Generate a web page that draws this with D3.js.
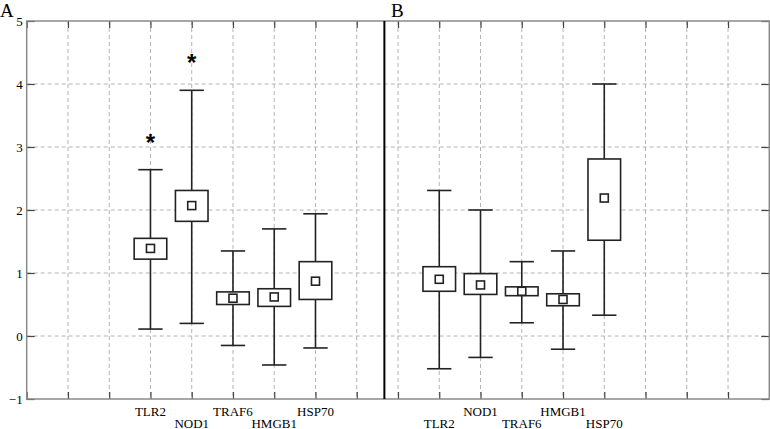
<!DOCTYPE html>
<html><head><meta charset="utf-8">
<script src="https://cdn.jsdelivr.net/npm/d3@7/dist/d3.min.js"></script>
<style>
body{margin:0;background:#fff;}
svg{display:block;}
</style></head>
<body><svg id="c" width="770" height="429"></svg>
<script>
// ---- data ----
const categories = ["TLR2","NOD1","TRAF6","HMGB1","HSP70"];
const yTicks = [-1,0,1,2,3,4,5];
const panelLabels = ["A","B"];

const highA = [2.64, 3.90, 1.35, 1.70, 1.94];
const q3A   = [1.55, 2.31, 0.70, 0.75, 1.18];
const meanA = [1.39, 2.07, 0.60, 0.62, 0.87];
const q1A   = [1.22, 1.82, 0.50, 0.47, 0.58];
const lowA  = [0.11, 0.20, -0.15, -0.46, -0.19];
const starA = [3.16, 4.43, null, null, null];

const highB = [2.31, 2.00, 1.18, 1.35, 4.00];
const q3B   = [1.10, 0.99, 0.78, 0.67, 2.81];
const meanB = [0.90, 0.81, 0.71, 0.58, 2.19];
const q1B   = [0.71, 0.66, 0.64, 0.48, 1.52];
const lowB  = [-0.52, -0.34, 0.21, -0.21, 0.33];
const starB = [null, null, null, null, null];

// ---- layout ----
const FONT = "Liberation Serif";
const pLeft = 26.7, pRight = 769.3, pTop = 21, pBottom = 399;
const nSlots = 18, offsetA = 3, offsetB = 10, dividerSlot = 8.67;
const rowA = [0,1,0,1,0], rowB = [1,0,1,0,1];

const x = d3.scaleLinear().domain([0, nSlots]).range([pLeft, pRight]);
const y = d3.scaleLinear().domain([-1, 5]).range([pBottom, pTop]);

const svg = d3.select("#c");

// grid
const grid = svg.append("g").attr("stroke","#b4b4b4").attr("stroke-width",1).attr("stroke-dasharray","4,3");
grid.selectAll("line.h").data(yTicks.filter(v=>v>-1 && v<5)).join("line")
  .attr("x1",pLeft).attr("x2",pRight).attr("y1",d=>y(d)).attr("y2",d=>y(d));
grid.selectAll("line.v").data(d3.range(1,nSlots)).join("line")
  .attr("y1",pTop).attr("y2",pBottom).attr("x1",d=>x(d)).attr("x2",d=>x(d));

// axes
const tv = d3.range(0, nSlots+1);
function styleAxis(g){
  g.select(".domain").remove();
  g.selectAll(".tick line").attr("stroke","#444").attr("stroke-width",1.2);
}
svg.append("g").attr("transform",`translate(0,${pBottom})`)
  .call(d3.axisBottom(x).tickValues(tv).tickSize(-7).tickFormat(""))
  .call(styleAxis);
svg.append("g").attr("transform",`translate(0,${pTop})`)
  .call(d3.axisTop(x).tickValues(tv).tickSize(-7).tickFormat(""))
  .call(styleAxis);
svg.append("g").attr("transform",`translate(${pLeft},0)`)
  .call(d3.axisLeft(y).tickValues(yTicks).tickSize(-8).tickFormat(d3.format("d")))
  .call(styleAxis)
  .call(g=>g.attr("font-family",FONT).attr("font-size",13))
  .call(g=>g.selectAll("text").attr("fill","#000").attr("dy","0.35em").attr("x",-4));
svg.append("g").attr("transform",`translate(${pRight},0)`)
  .call(d3.axisRight(y).tickValues(yTicks).tickSize(-8).tickFormat(""))
  .call(styleAxis);

// border
svg.append("rect").attr("x",pLeft).attr("y",pTop).attr("width",pRight-pLeft).attr("height",pBottom-pTop)
  .attr("fill","none").attr("stroke","#8a8a8a").attr("stroke-width",1.5);

// divider
svg.append("line").attr("x1",x(dividerSlot)).attr("x2",x(dividerSlot)).attr("y1",pTop).attr("y2",pBottom)
  .attr("stroke","#000").attr("stroke-width",2);

// boxes
const unit = x(1)-x(0);
function drawGroup(offset, high, q3, mean, q1, low, star, rows){
  const data = categories.map((c,i)=>({c, slot: offset+i, high: high[i], q3: q3[i], mean: mean[i], q1: q1[i], low: low[i], star: star[i], row: rows[i]}));
  const g = svg.append("g").attr("stroke","#222").attr("stroke-width",1.6).attr("fill","none");
  const bw = unit*0.79, cw = unit*0.59, mw = 8;
  const it = g.selectAll("g").data(data).join("g");
  it.append("line").attr("x1",d=>x(d.slot)).attr("x2",d=>x(d.slot)).attr("y1",d=>y(d.high)).attr("y2",d=>y(d.q3));
  it.append("line").attr("x1",d=>x(d.slot)).attr("x2",d=>x(d.slot)).attr("y1",d=>y(d.q1)).attr("y2",d=>y(d.low));
  it.append("line").attr("x1",d=>x(d.slot)-cw/2).attr("x2",d=>x(d.slot)+cw/2).attr("y1",d=>y(d.high)).attr("y2",d=>y(d.high));
  it.append("line").attr("x1",d=>x(d.slot)-cw/2).attr("x2",d=>x(d.slot)+cw/2).attr("y1",d=>y(d.low)).attr("y2",d=>y(d.low));
  it.append("rect").attr("x",d=>x(d.slot)-bw/2).attr("width",bw).attr("y",d=>y(d.q3)).attr("height",d=>y(d.q1)-y(d.q3)).attr("fill","#fff");
  it.append("rect").attr("x",d=>x(d.slot)-mw/2).attr("width",mw).attr("y",d=>y(d.mean)-mw/2).attr("height",mw).attr("fill","#fff");
  svg.append("g").selectAll("text").data(data.filter(d=>d.star!=null)).join("text")
    .attr("x",d=>x(d.slot)).attr("y",d=>y(d.star)+14).attr("text-anchor","middle")
    .attr("font-family","Liberation Sans").attr("font-weight","bold").attr("font-size",24).text("*");
  svg.append("g").selectAll("text").data(data).join("text")
    .attr("x",d=>x(d.slot)).attr("y",d=>d.row===0?416:427.5).attr("text-anchor","middle")
    .attr("font-family",FONT).attr("font-size",13).attr("fill","#000").text(d=>d.c);
}
drawGroup(offsetA, highA, q3A, meanA, q1A, lowA, starA, rowA);
drawGroup(offsetB, highB, q3B, meanB, q1B, lowB, starB, rowB);

// panel labels
svg.append("text").attr("x",0).attr("y",17).attr("font-family",FONT).attr("font-size",19).text(panelLabels[0]);
svg.append("text").attr("x",391).attr("y",17).attr("font-family",FONT).attr("font-size",19).text(panelLabels[1]);
</script></body></html>
